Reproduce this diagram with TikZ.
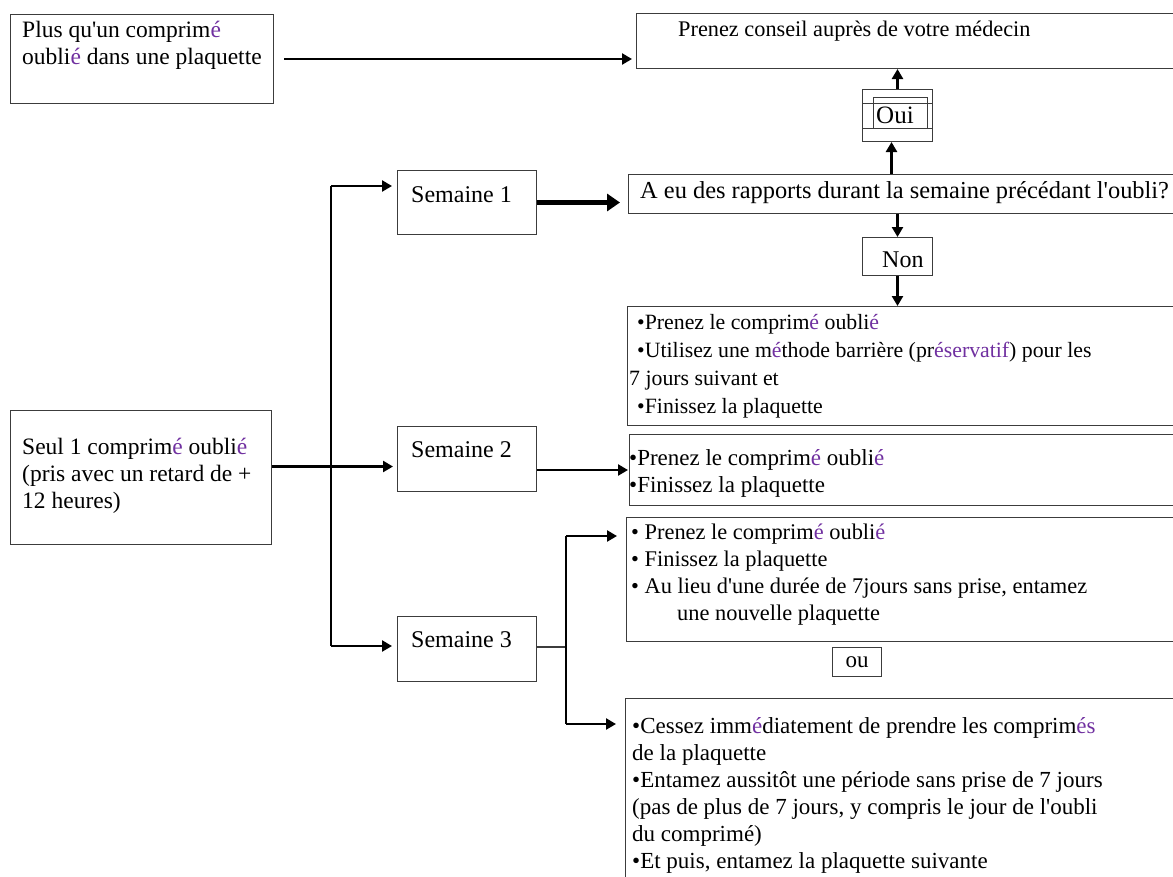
\documentclass[tikz,border=0pt]{standalone}
\usepackage{fontspec}
\setmainfont{Liberation Serif}
\usetikzlibrary{arrows.meta}
\definecolor{accentviolet}{RGB}{112,48,160}
\definecolor{boxgray}{RGB}{60,60,60}
\newcommand\vi[1]{\textcolor{accentviolet}{#1}}
\newcommand\tf[1]{\fontsize{#1}{27}\selectfont}

\begin{document}
\begin{tikzpicture}[x=1pt,y=-1pt,
    box/.style={draw=boxgray, line width=1pt, inner sep=0pt, anchor=north west},
    txt/.style={anchor=north west, inner sep=0pt, align=left, font=\tf{23}},
    arr/.style={line width=2.4pt, -{Triangle[length=10pt,width=11pt]}},
    bigarr/.style={line width=4.5pt, -{Triangle[length=13pt,width=17pt]}}]
    \useasboundingbox (0,0) rectangle (1173,876);

    \node[box, minimum width=263pt, minimum height=89pt] (plus) at (10,14) {};
    \node[txt, font=\tf{23.5}] (plustxt) at (22,18) {\strut Plus qu\textquotesingle un comprim\vi{é}\\oubli\vi{é} dans une plaquette};

    \node[box, minimum width=545pt, minimum height=55pt] (conseil) at (636,13) {};
    \node[txt, font=\tf{22.3}] (conseiltxt) at (678,17) {\strut Prenez conseil auprès de votre médecin};

    \node[box, minimum width=70pt, minimum height=52pt] (oui) at (862,89) {};
    \node[box, minimum width=54pt, minimum height=31pt] (ouiin) at (873,97) {};
    \draw[boxgray, line width=0.8pt] ([yshift=-14pt]oui.north west) -- ([yshift=-14pt]oui.north east);
    \draw[boxgray, line width=0.8pt] ([yshift=-39pt]oui.north west) -- ([yshift=-39pt]oui.north east);
    \node[txt, font=\tf{25}] (ouitxt) at (876,104) {\strut Oui};

    \node[box, minimum width=550pt, minimum height=39pt] (ques) at (628,174) {};
    \node[txt, font=\tf{24.4}] (questxt) at (640,179) {\strut A eu des rapports durant la semaine précédant l\textquotesingle oubli?};

    \node[box, minimum width=70pt, minimum height=38pt] (non) at (862,237) {};
    \node[txt, font=\tf{24}] (nontxt) at (882,248) {\strut Non};

    \node[box, minimum width=550pt, minimum height=119pt] (s1res) at (627,306) {};
    \node[txt, font=\fontsize{21.8}{28}\selectfont] (s1restxt) at (629,310) {\strut\hspace*{8pt}•Prenez le comprim\vi{é} oubli\vi{é}\\
      \hspace*{8pt}•Utilisez une m\vi{é}thode barrière (pr\vi{éservatif}) pour les\\
      7 jours suivant et\\
      \hspace*{8pt}•Finissez la plaquette};

    \node[box, minimum width=261pt, minimum height=134pt] (seul) at (10,410) {};
    \node[txt, font=\tf{23.5}] (seultxt) at (22,435) {\strut Seul 1 comprim\vi{é} oubli\vi{é}\\(pris avec un retard de +\\12 heures)};

    \node[box, minimum width=139pt, minimum height=64pt] (s1) at (397,170) {};
    \node[txt, font=\tf{24}] (s1txt) at (411,183) {\strut Semaine 1};
    \node[box, minimum width=139pt, minimum height=65pt] (s2) at (397,426) {};
    \node[txt, font=\tf{24}] (s2txt) at (411,438) {\strut Semaine 2};
    \node[box, minimum width=139pt, minimum height=65pt] (s3) at (397,616) {};
    \node[txt, font=\tf{24}] (s3txt) at (411,628) {\strut Semaine 3};

    \node[box, minimum width=548pt, minimum height=71pt] (s2res) at (629,434) {};
    \node[txt] (s2restxt) at (629,446) {\strut•Prenez le comprim\vi{é} oubli\vi{é}\\•Finissez la plaquette};

    \node[box, minimum width=551pt, minimum height=124pt] (s3a) at (626,517) {};
    \node[txt, font=\tf{22.4}] (s3atxt) at (631,520) {\strut• Prenez le comprim\vi{é} oubli\vi{é}\\
      • Finissez la plaquette\\
      • Au lieu d\textquotesingle une durée de 7jours sans prise, entamez\\
      \hspace*{46pt}une nouvelle plaquette};

    \node[box, minimum width=49pt, minimum height=29pt, font=\tf{23}] (ou) at (832,647) {ou};

    \node[box, minimum width=551pt, minimum height=200pt] (s3b) at (625,698) {};
    \node[txt] (s3btxt) at (632,714) {\strut•Cessez imm\vi{é}diatement de prendre les comprim\vi{és}\\
      de la plaquette\\
      •Entamez aussitôt une période sans prise de 7 jours\\
      (pas de plus de 7 jours, y compris le jour de l\textquotesingle oubli\\
      du comprimé)\\
      •Et puis, entamez la plaquette suivante};

    \coordinate (top) at (331,186);
    \coordinate (bot) at (331,646);
    \coordinate (fa) at (566,536);
    \coordinate (fb) at (566,724);

    \draw[arr, shorten >=4pt] ([xshift=10pt]plus.east) -- (plus.east -| conseil.west);
    \draw[arr] (oui.north) -- (oui.north |- conseil.south);
    \draw[arr] ([xshift=-6pt]oui.south |- ques.north) -- ([xshift=-6pt]oui.south);
    \draw[arr] (non.north |- ques.south) -- (non.north);
    \draw[arr] (non.south) -- (non.south |- s1res.north);
    \draw[bigarr, shorten >=8pt] (s1.east) -- (s1.east -| ques.west);

    \draw[line width=2pt] (top) -- (bot);
    \draw[arr, shorten >=5pt] (top) -- (top -| s1.west);
    \draw[arr, shorten >=4pt] ([yshift=11pt]seul.east) -- ([yshift=11pt]seul.east -| s2.west);
    \draw[arr, shorten >=5pt] (bot) -- (bot -| s3.west);
    \draw[arr, shorten >=1pt] (s2res.west -| s2.east) -- (s2res.west);

    \draw[boxgray, line width=1.2pt] ([yshift=2pt]s3.east) -- ([yshift=2pt]s3.east -| fa);
    \draw[line width=2pt] (fa) -- (fb);
    \draw[arr, shorten >=9pt] (fa) -- (fa -| s3a.west);
    \draw[arr, shorten >=9pt] (fb) -- (fb -| s3b.west);
\end{tikzpicture}
\end{document}
